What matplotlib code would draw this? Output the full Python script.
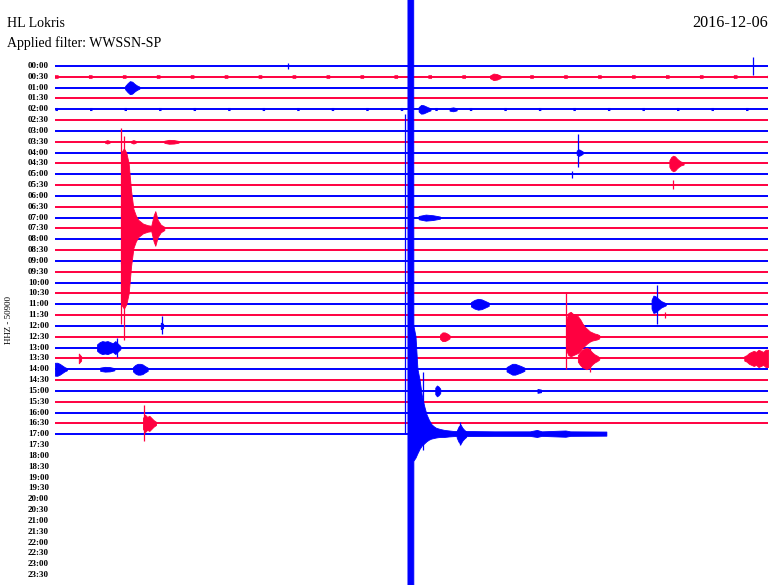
import matplotlib
matplotlib.use("Agg")
import matplotlib.pyplot as plt
import numpy as np

# ---------------- data ----------------
station = "HL Lokris"
filter_text = "Applied filter: WWSSN-SP"
date_text = "2016-12-06"
channel_text = "HHZ - 50900"
row_labels = ["00:00", "00:30", "01:00", "01:30", "02:00", "02:30", "03:00", "03:30",
              "04:00", "04:30", "05:00", "05:30", "06:00", "06:30", "07:00", "07:30",
              "08:00", "08:30", "09:00", "09:30", "10:00", "10:30", "11:00", "11:30",
              "12:00", "12:30", "13:00", "13:30", "14:00", "14:30", "15:00", "15:30",
              "16:00", "16:30", "17:00", "17:30", "18:00", "18:30", "19:00", "19:30",
              "20:00", "20:30", "21:00", "21:30", "22:00", "22:30", "23:00", "23:30"]
n_traces = 35            # rows that contain data (00:00 .. 17:00)
last_trace_end = 23.22   # minutes of data in the last (17:00) row

# envelopes: (row, minutes, upward amplitude, downward amplitude or None=same), row units
events = [
    (1, [18.3, 18.45, 18.6, 18.75], [0.12, 0.3, 0.25, 0.1], None),
    (2, [2.95, 3.05, 3.15, 3.25, 3.35, 3.45, 3.55], [0.15, 0.4, 0.6, 0.55, 0.35, 0.2, 0.1], None),
    (4, [15.3, 15.4, 15.5, 15.6, 15.7, 15.8], [0.2, 0.4, 0.38, 0.28, 0.18, 0.1], None),
    (4, [16.6, 16.75, 16.9], [0.12, 0.18, 0.1], None),
    (7, [2.1, 2.2, 2.3], [0.08, 0.16, 0.08], None),
    (7, [3.2, 3.3, 3.4], [0.08, 0.16, 0.08], None),
    (7, [4.6, 4.8, 5.0, 5.2], [0.1, 0.18, 0.16, 0.08], None),
    (15, [2.78, 2.9, 3.0, 3.1, 3.2, 3.3, 3.4, 3.5, 3.7, 3.9, 4.05, 4.15, 4.22, 4.32, 4.45, 4.6],
     [7.0, 7.4, 7.0, 6.0, 3.5, 1.8, 1.2, 0.8, 0.45, 0.3, 0.25, 1.2, 1.6, 0.8, 0.35, 0.15], None),
    (8, [21.95, 22.05, 22.2], [0.2, 0.3, 0.12], None),
    (9, [25.85, 25.93, 26.01, 26.09, 26.17, 26.25, 26.33, 26.45],
     [0.3, 0.6, 0.72, 0.65, 0.45, 0.3, 0.18, 0.1], None),
    (14, [15.3, 15.6, 15.9, 16.2], [0.15, 0.28, 0.22, 0.1], None),
    (22, [17.5, 17.65, 17.8, 17.95, 18.1, 18.25], [0.2, 0.4, 0.5, 0.45, 0.3, 0.15], None),
    (22, [25.1, 25.18, 25.26, 25.34, 25.42, 25.5, 25.6, 25.7],
     [0.4, 0.8, 0.75, 0.6, 0.45, 0.3, 0.2, 0.1], None),
    (24, [4.45, 4.55], [0.3, 0.2], None),
    (25, [16.2, 16.3, 16.4, 16.5, 16.6], [0.2, 0.4, 0.4, 0.3, 0.15], None),
    (25, [21.5, 21.6, 21.7, 21.8, 21.9, 22.0, 22.1, 22.2, 22.3, 22.4, 22.5, 22.6, 22.7, 22.8, 22.9],
     [1.5, 2.2, 2.3, 2.1, 2.0, 1.9, 1.6, 1.2, 0.9, 0.7, 0.5, 0.4, 0.3, 0.25, 0.15],
     [1.2, 1.7, 1.8, 1.7, 1.6, 1.5, 1.3, 1.0, 0.8, 0.6, 0.45, 0.35, 0.3, 0.25, 0.15]),
    (26, [1.77, 1.88, 1.99, 2.1, 2.21, 2.32, 2.43, 2.54, 2.65, 2.75],
     [0.3, 0.5, 0.6, 0.55, 0.6, 0.5, 0.4, 0.6, 0.35, 0.15], None),
    (27, [1.0, 1.1], [0.45, 0.2], None),
    (27, [22.0, 22.09, 22.18, 22.27, 22.36, 22.45, 22.54, 22.63, 22.72, 22.81, 22.9],
     [0.3, 0.6, 0.8, 0.9, 1.0, 0.9, 0.7, 0.5, 0.35, 0.25, 0.1], None),
    (27, [29.0, 29.1, 29.2, 29.3, 29.4, 29.5, 29.6, 29.7, 29.8, 29.9, 30.0],
     [0.2, 0.3, 0.5, 0.6, 0.7, 0.6, 0.8, 0.7, 0.6, 0.8, 0.8], None),
    (28, [0.0, 0.1, 0.2, 0.3, 0.4, 0.5], [0.6, 0.6, 0.5, 0.35, 0.2, 0.1], None),
    (28, [1.9, 2.1, 2.3, 2.5], [0.15, 0.22, 0.2, 0.1], None),
    (28, [3.28, 3.38, 3.48, 3.58, 3.68, 3.78, 3.9], [0.2, 0.4, 0.5, 0.5, 0.45, 0.3, 0.15], None),
    (28, [19.0, 19.12, 19.24, 19.36, 19.48, 19.6, 19.75], [0.2, 0.35, 0.5, 0.5, 0.4, 0.3, 0.15], None),
    (30, [16.0, 16.07, 16.14, 16.21], [0.3, 0.5, 0.4, 0.2], None),
    (30, [20.3, 20.45], [0.18, 0.12], None),
    (33, [3.7, 3.79, 3.88, 3.97, 4.06, 4.15, 4.25], [0.5, 0.8, 0.6, 0.7, 0.5, 0.3, 0.15], None),
    (34, [14.85, 15.09, 15.1, 15.19, 15.27, 15.36, 15.45, 15.55, 15.65, 15.75, 15.85, 15.95,
          16.05, 16.2, 16.4, 16.6, 16.8, 17.4, 18.5, 20.0, 20.3, 20.5, 21.5, 21.7, 23.22],
     [60, 60, 10, 9.0, 6.0, 5.0, 3.6, 2.6, 1.8, 1.3, 0.9, 0.7, 0.55, 0.45, 0.35, 0.3, 0.25,
      0.25, 0.22, 0.22, 0.35, 0.22, 0.3, 0.22, 0.2],
     [60, 60, 2.5, 2.2, 1.8, 1.4, 1.1, 0.9, 0.7, 0.55, 0.45, 0.4, 0.35, 0.3, 0.3, 0.25, 0.22,
      0.22, 0.2, 0.2, 0.3, 0.2, 0.28, 0.2, 0.18]),
    (34, [16.9, 16.98, 17.06, 17.14, 17.22, 17.3], [0.3, 0.7, 0.9, 0.6, 0.4, 0.25], None),
]

# single spikes: (row, minute, up, down) in row units
spikes = [
    (0, 29.36, 0.8, 0.8), (0, 9.8, 0.3, 0.3), (8, 22.0, 1.7, 1.3), (10, 21.75, 0.35, 0.3),
    (11, 26.0, 0.5, 0.4), (15, 2.78, 9.3, 8.8), (15, 2.9, 8.5, 10.3), (22, 25.33, 1.8, 1.8),
    (23, 25.66, 0.3, 0.3), (24, 4.5, 0.9, 0.7), (25, 21.5, 4.1, 3.0), (26, 2.6, 0.9, 0.9),
    (27, 22.5, 1.0, 1.3), (33, 3.75, 1.7, 1.6), (34, 14.72, 29.6, 0.0), (34, 15.48, 5.7, 1.5),
    (34, 17.04, 1.1, 1.0),
]

blue = "#0000ff"
red = "#ff0040"

# ---------------- layout ----------------
W, H = 770, 585
px_left, px_right = 55, 768
row0_px, row_dy = 66, 10.83
ppm = (px_right - px_left) / 30.0

fig = plt.figure(figsize=(W / 100, H / 100), dpi=100)
fig.patch.set_facecolor("white")
ax = fig.add_axes([0, 0, 1, 1])
ax.set_xlim(-px_left / ppm, (W - px_left) / ppm)
ax.set_ylim((H - row0_px) / row_dy, -row0_px / row_dy)
ax.axis("off")


def col(r):
    return blue if r % 2 == 0 else red


for r in range(n_traces):
    end = 30 if r < n_traces - 1 else last_trace_end
    ax.plot([0, end], [r, r], color=col(r), lw=1.4, solid_capstyle="butt", zorder=2)

# periodic noise dashes on two rows
ax.plot([0, 30], [1, 1], color=red, lw=2.6, ls=(0, (1.0, 8.4)), zorder=2)
ax.plot([0, 30], [4, 4], color=blue, lw=2.2, ls=(0, (0.8, 10.5)), zorder=2)

for r, m, up, dn in events:
    m = np.array(m, float)
    up = np.array(up, float)
    dn = up if dn is None else np.array(dn, float)
    ax.fill_between(m, r - up, r + dn, color=col(r), lw=0.6, zorder=3)

for r, m, up, dn in spikes:
    ax.vlines(m, r - up, r + dn, color=col(r), lw=0.9, zorder=3)

serif = "Liberation Serif"
fig.text(7 / W, 1 - 27 / H, station, family=serif, fontsize=10, va="baseline", ha="left")
fig.text(7 / W, 1 - 47 / H, filter_text, family=serif, fontsize=10, va="baseline", ha="left")
fig.text(768 / W, 1 - 27 / H, date_text, family=serif, fontsize=11.6, va="baseline", ha="right")
fig.text(9 / W, 1 - 320 / H, channel_text, family=serif, fontsize=6.5, rotation=90,
         va="center", ha="center")

for i, lab in enumerate(row_labels):
    ax.text(49 / ppm - px_left / ppm, i, lab, family=serif, fontweight="bold", fontsize=6.5,
            ha="right", va="center", zorder=5)

fig.savefig("out.png", dpi=100, facecolor="white")
